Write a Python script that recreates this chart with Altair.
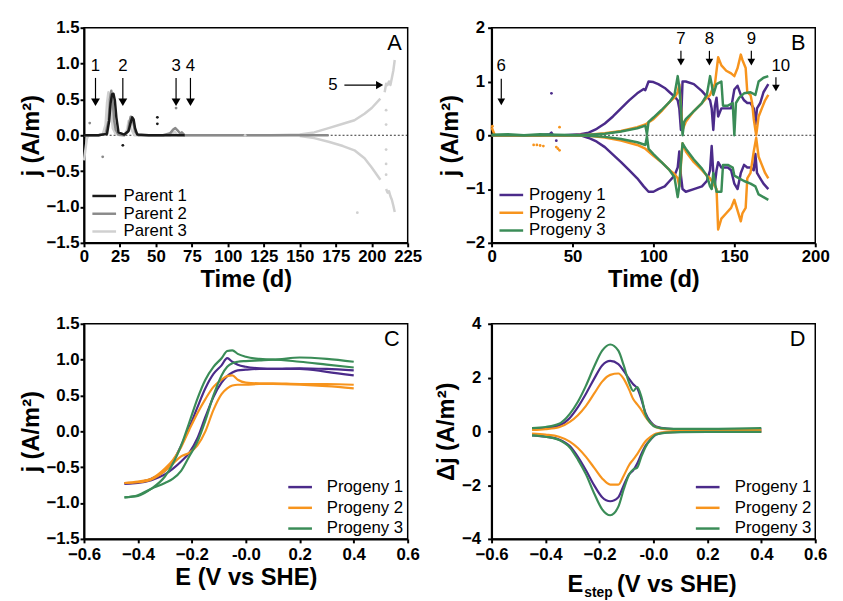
import altair as alt
import pandas as pd

FONT = "Liberation Sans"

# ---------------- Panel A: parents ----------------
parent_names = ["Parent 1", "Parent 2", "Parent 3"]
parent_colors = ["#1a1a1a", "#8a8a8a", "#d0d0d0"]

p1_t = [0, 10, 16, 17.5, 18.5, 19.5, 20.5, 21.5, 22.5, 24, 28, 31, 32.5, 33.5, 34.5, 35.5, 37, 45, 60, 70]
p1_j = [0, 0, 0.02, 0.2, 0.45, 0.57, 0.58, 0.48, 0.25, 0.04, 0.01, 0.06, 0.18, 0.25, 0.22, 0.1, 0.01, 0, 0, 0]
p2_t = [0, 10, 15, 17, 18, 19, 20, 21, 22, 24, 28, 30.5, 31.5, 32.5, 33.5, 34.5, 35.5, 38, 55, 60, 62, 63.5, 65, 67, 68, 70, 100, 150, 170]
p2_j = [0, 0, 0.02, 0.2, 0.5, 0.62, 0.45, 0.2, 0.08, 0.01, 0, 0.05, 0.17, 0.26, 0.25, 0.15, 0.05, 0, 0, 0.03, 0.08, 0.1, 0.07, 0.02, 0.04, 0, 0, 0, 0]
p3_t = [0, 1, 2, 3, 5, 10, 13, 15, 16, 17, 18, 19, 20, 22, 25, 28, 30, 31, 32, 33, 35, 40, 60, 63, 65, 70, 100, 130, 150, 160, 170, 180, 188, 195, 200, 206]
p3_j = [-0.35, -0.2, -0.05, 0, 0, 0, 0.01, 0.15, 0.45, 0.6, 0.5, 0.3, 0.1, 0.02, 0, 0, 0.08, 0.2, 0.18, 0.08, 0, 0, 0, 0.05, 0, 0, 0, 0, 0.01, 0.04, 0.1, 0.16, 0.21, 0.3, 0.38, 0.51]
p3_tail_t = [209, 210, 211, 212, 213, 214, 215, 216]
p3_tail_j = [0.6, 0.72, 0.7, 0.75, 0.7, 0.8, 0.9, 1.05]
p3_neg_t = [150, 160, 170, 180, 188, 195, 200, 206]
p3_neg_j = [-0.01, -0.04, -0.09, -0.15, -0.21, -0.32, -0.45, -0.62]
p3_negtail_t = [210, 211, 212, 213, 214, 215, 216]
p3_negtail_j = [-0.75, -0.8, -0.78, -0.85, -0.9, -0.98, -1.07]

a_dot_t = [51, 51, 27, 13, 64, 4, 190, 210, 210, 210, 210, 210, 112]
a_dot_j = [0.25, 0.16, -0.14, -0.3, 0.38, 0.17, -1.08, 0.35, 0.15, -0.2, -0.4, -0.55, 0.0]
a_dot_c = ["#1a1a1a", "#1a1a1a", "#1a1a1a", "#8a8a8a", "#8a8a8a", "#8a8a8a",
           "#d0d0d0", "#d0d0d0", "#d0d0d0", "#d0d0d0", "#d0d0d0", "#d0d0d0", "#d0d0d0"]

a_arrow_lab = ["1", "2", "3", "4"]
a_arrow_x = [8, 27, 64, 74]
a_arrow_text_y = [0.97, 0.97, 0.97, 0.97]
a_arrow_top = [0.8, 0.8, 0.8, 0.8]
a_arrow_bot = [0.5, 0.5, 0.5, 0.5]
a_arrow_head = [0.46, 0.46, 0.46, 0.46]
a5_text = ["5"]
a5_text_x = [173]
a5_x1 = [181]
a5_x2 = [203]
a5_head_x = [205.5]
a5_y = [0.7]

# ---------------- Panel B: progeny ----------------
prog_names = ["Progeny 1", "Progeny 2", "Progeny 3"]
prog_colors = ["#4b2b8a", "#f7941d", "#3a8c57"]

g1p_t = [0, 30, 36, 37, 38, 45, 55, 60, 65, 70, 75, 80, 85, 90, 94, 95, 97, 100, 103, 107, 110, 113, 115, 116, 117, 117.5, 118, 120, 125, 130, 133, 135, 136, 137, 138, 139, 140, 142, 146, 148, 150, 152, 154, 156, 158, 160, 162, 163, 164, 166, 168, 171]
g1p_j = [0, 0, 0.02, 0.05, 0, 0, 0.02, 0.05, 0.12, 0.22, 0.35, 0.5, 0.65, 0.78, 0.86, 0.84, 1.0, 0.99, 0.95, 0.88, 0.8, 0.72, 0.65, 0.5, 0.1, 0.6, 1.0, 1.0, 0.95, 0.82, 0.72, 0.65, 0.5, 0.1, 0.55, 0.7, 0.35, 0.5, 0.5, 0.5, 0.85, 0.92, 0.75, 0.65, 0.6, 0.6, 0.5, 0.2, 0.5, 0.6, 0.8, 0.95]
g1n_t = [0, 55, 60, 65, 70, 75, 80, 85, 90, 94, 97, 100, 103, 107, 110, 113, 115, 116, 117, 118, 120, 125, 130, 133, 135, 136, 137, 138, 139, 140, 142, 146, 148, 150, 152, 154, 156, 158, 160, 162, 163, 164, 166, 168, 171]
g1n_j = [0, 0, -0.05, -0.12, -0.22, -0.36, -0.5, -0.65, -0.8, -0.95, -1.05, -1.05, -1.0, -0.95, -0.85, -0.75, -0.6, -0.3, -0.75, -1.0, -1.05, -1.0, -0.95, -0.85, -0.65, -0.2, -0.7, -0.9, -0.65, -0.5, -0.6, -0.6, -0.65, -0.9, -1.0, -0.7, -0.55, -0.6, -0.6, -0.65, -0.35, -0.7, -0.8, -0.9, -1.0]
g2p_t = [0, 2, 50, 60, 70, 80, 90, 95, 100, 105, 110, 113, 115, 116, 118, 120, 125, 130, 133, 135, 137, 138, 140, 142, 145, 148, 150, 152, 154, 155, 157, 158, 160, 161, 162, 163.5, 165, 167, 169, 171]
g2p_j = [0.15, 0, 0, 0.01, 0.04, 0.08, 0.15, 0.2, 0.3, 0.45, 0.62, 0.7, 0.8, 0.95, 0.1, 0.25, 0.45, 0.6, 0.7, 0.75, 0.9, 0.95, 1.45, 1.3, 1.2, 1.15, 1.1, 1.25, 1.5, 1.4, 1.25, 0.8, 0.75, 0.6, 0.3, 0.0, 0.35, 0.5, 0.65, 0.75]
g2n_t = [0, 50, 60, 70, 80, 90, 95, 100, 105, 110, 113, 115, 116, 118, 120, 125, 130, 133, 135, 137, 139, 140, 142, 145, 148, 150, 152, 154, 155, 157, 158, 160, 162, 163.5, 165, 167, 169, 171]
g2n_j = [0, 0, -0.01, -0.04, -0.1, -0.18, -0.25, -0.38, -0.5, -0.65, -0.72, -0.8, -0.95, -0.15, -0.3, -0.5, -0.65, -0.75, -0.8, -0.9, -1.0, -1.75, -1.55, -1.45, -1.35, -1.2, -1.4, -1.6, -1.45, -1.35, -0.8, -0.7, -0.3, -0.05, -0.4, -0.55, -0.7, -0.8]
g3p_t = [0, 10, 20, 30, 40, 55, 60, 70, 80, 90, 95, 96, 97, 100, 105, 110, 113, 115, 116, 117, 118, 119, 120, 125, 130, 133, 135, 136, 137, 139, 142, 143, 146, 149, 150, 151, 153, 156, 160, 163, 165, 168, 171]
g3p_j = [0.01, 0.02, 0.0, 0.02, 0.01, 0, 0.01, 0.03, 0.07, 0.13, 0.18, 0.02, 0.25, 0.33, 0.47, 0.62, 0.75, 1.1, 0.9, 0.5, 0.0, 0.25, 0.3, 0.45, 0.6, 0.75, 1.1, 0.95, 0.75, 0.95, 1.0, 0.55, 0.55, 0.6, 0.0, 0.6, 0.7, 0.78, 0.8, 0.75, 1.0, 1.07, 1.1]
g3n_t = [0, 55, 60, 70, 80, 90, 95, 96, 97, 100, 105, 110, 113, 115, 116, 117, 118, 119, 120, 125, 130, 133, 135, 136, 137, 139, 142, 143, 146, 149, 150, 153, 156, 160, 163, 165, 168, 171]
g3n_j = [0, 0, -0.01, -0.03, -0.07, -0.13, -0.18, -0.02, -0.25, -0.35, -0.5, -0.65, -0.78, -1.15, -0.95, -0.5, -0.15, -0.2, -0.25, -0.45, -0.62, -0.75, -0.95, -1.0, -0.7, -1.05, -1.05, -0.55, -0.55, -0.6, -0.75, -0.8, -0.85, -0.9, -0.95, -1.1, -1.15, -1.2]

b_dot_t = [37, 0.5, 26, 28, 30, 32, 40, 41, 42, 42, 40]
b_dot_j = [0.78, 0.17, -0.18, -0.18, -0.19, -0.2, -0.22, -0.25, -0.28, 0.15, -0.1]
b_dot_c = ["#4b2b8a", "#f7941d", "#f7941d", "#f7941d", "#f7941d", "#f7941d",
           "#f7941d", "#f7941d", "#f7941d", "#f7941d", "#4b2b8a"]

b_arrow_lab = ["6", "7", "8", "9", "10"]
b_arrow_x = [6, 117, 134.6, 160.5, 175.7]
b_text_x = [6, 117, 134.6, 160.5, 178.7]
b_text_y = [1.29, 1.78, 1.78, 1.78, 1.29]
b_arrow_top = [1.05, 1.57, 1.57, 1.57, 1.08]
b_arrow_bot = [0.68, 1.4, 1.4, 1.4, 0.92]
b_arrow_head = [0.62, 1.36, 1.36, 1.36, 0.88]

# ---------------- Panel C: CV ----------------
c_E = [-0.45, -0.4, -0.35, -0.3, -0.27, -0.24, -0.21, -0.18, -0.15, -0.12, -0.09, -0.069, -0.05, -0.03, 0.0, 0.05, 0.1, 0.2, 0.3, 0.4]
c1_up = [-0.73, -0.71, -0.66, -0.55, -0.42, -0.2, 0.05, 0.33, 0.6, 0.8, 0.92, 1.02, 0.97, 0.93, 0.9, 0.88, 0.87, 0.88, 0.87, 0.85]
c1_lo = [-0.73, -0.72, -0.68, -0.6, -0.52, -0.42, -0.3, -0.1, 0.2, 0.48, 0.68, 0.77, 0.82, 0.85, 0.86, 0.87, 0.87, 0.87, 0.83, 0.78]
c2_up = [-0.72, -0.7, -0.66, -0.52, -0.4, -0.22, 0.02, 0.25, 0.45, 0.62, 0.72, 0.77, 0.78, 0.72, 0.68, 0.67, 0.67, 0.66, 0.66, 0.65]
c2_lo = [-0.72, -0.71, -0.67, -0.55, -0.45, -0.35, -0.3, -0.2, 0.0, 0.3, 0.52, 0.6, 0.64, 0.65, 0.65, 0.66, 0.66, 0.65, 0.63, 0.6]
c3_up = [-0.92, -0.9, -0.8, -0.63, -0.45, -0.2, 0.12, 0.45, 0.72, 0.9, 1.02, 1.12, 1.13, 1.08, 1.04, 1.01, 1.0, 1.03, 1.01, 0.97]
c3_lo = [-0.92, -0.89, -0.8, -0.72, -0.66, -0.55, -0.35, -0.15, 0.15, 0.5, 0.78, 0.9, 0.95, 0.97, 0.98, 0.99, 1.0, 0.97, 0.93, 0.89]

# ---------------- Panel D: differential current ----------------
d_E = [-0.45, -0.4, -0.35, -0.31, -0.28, -0.25, -0.22, -0.19, -0.16, -0.13, -0.11, -0.09, -0.075, -0.06, -0.045, -0.03, -0.01, 0.01, 0.05, 0.1, 0.2, 0.3, 0.4]
d1_pos = [0.1, 0.13, 0.22, 0.5, 0.9, 1.4, 1.95, 2.45, 2.62, 2.5, 2.25, 1.95, 1.75, 1.6, 1.2, 0.7, 0.35, 0.18, 0.1, 0.08, 0.08, 0.08, 0.08]
d1_neg = [-0.15, -0.2, -0.3, -0.55, -0.95, -1.45, -2.0, -2.45, -2.6, -2.45, -2.0, -1.6, -1.45, -1.2, -0.85, -0.55, -0.3, -0.12, -0.04, -0.02, -0.01, 0.0, 0.0]
d2_pos = [0.05, 0.08, 0.15, 0.35, 0.6, 0.95, 1.4, 1.85, 2.1, 2.15, 1.95, 1.55, 1.2, 1.0, 0.8, 0.55, 0.3, 0.15, 0.07, 0.05, 0.05, 0.05, 0.05]
d2_neg = [-0.08, -0.12, -0.2, -0.38, -0.62, -0.95, -1.35, -1.75, -1.98, -1.98, -1.65, -1.25, -1.05, -0.85, -0.6, -0.38, -0.2, -0.08, -0.03, -0.02, -0.01, -0.01, -0.01]
d3_pos = [0.12, 0.16, 0.28, 0.65, 1.1, 1.7, 2.4, 3.0, 3.23, 3.0, 2.45, 1.8, 1.5, 1.65, 1.3, 0.65, 0.3, 0.15, 0.1, 0.09, 0.09, 0.1, 0.12]
d3_neg = [-0.15, -0.2, -0.32, -0.6, -1.05, -1.6, -2.3, -2.9, -3.12, -2.8, -2.15, -1.6, -1.42, -1.35, -0.95, -0.6, -0.3, -0.12, -0.05, -0.03, -0.02, -0.02, -0.02]


def frame(pairs, xname, yname):
    rows = []
    for name, branch, xs, ys in pairs:
        for x, y in zip(xs, ys):
            rows.append({xname: x, yname: y, "series": name, "branch": branch})
    return pd.DataFrame(rows)


dfA = frame([
    ("Parent 1", "a", p1_t, p1_j),
    ("Parent 2", "a", p2_t, p2_j),
    ("Parent 3", "a", p3_t, p3_j),
    ("Parent 3", "b", p3_tail_t, p3_tail_j),
    ("Parent 3", "c", p3_neg_t, p3_neg_j),
    ("Parent 3", "d", p3_negtail_t, p3_negtail_j),
], "t", "j")
dfB = frame([
    ("Progeny 1", "p", g1p_t, g1p_j), ("Progeny 1", "n", g1n_t, g1n_j),
    ("Progeny 2", "p", g2p_t, g2p_j), ("Progeny 2", "n", g2n_t, g2n_j),
    ("Progeny 3", "p", g3p_t, g3p_j), ("Progeny 3", "n", g3n_t, g3n_j),
], "t", "j")
dfC = frame([
    ("Progeny 1", "u", c_E, c1_up), ("Progeny 1", "l", c_E, c1_lo),
    ("Progeny 2", "u", c_E, c2_up), ("Progeny 2", "l", c_E, c2_lo),
    ("Progeny 3", "u", c_E, c3_up), ("Progeny 3", "l", c_E, c3_lo),
], "E", "j")
dfD = frame([
    ("Progeny 1", "p", d_E, d1_pos), ("Progeny 1", "n", d_E, d1_neg),
    ("Progeny 2", "p", d_E, d2_pos), ("Progeny 2", "n", d_E, d2_neg),
    ("Progeny 3", "p", d_E, d3_pos), ("Progeny 3", "n", d_E, d3_neg),
], "E", "j")

W, H = 328, 218
e_label = "datum.value == 0 ? '-0.0' : format(datum.value, '.1f')"


class Panel:
    def __init__(self, xdom, ydom, xvals, yvals, xtitle, ytitle, xfmt=None, yfmt=None,
                 xexpr=None, xpad=1, ypad=1):
        self.xs = alt.Scale(domain=xdom, nice=False, zero=False)
        self.ys = alt.Scale(domain=ydom, nice=False, zero=False)
        xa = dict(values=xvals, title=xtitle, labelOverlap=False, labelFlush=False,
                  labelPadding=xpad)
        if xfmt:
            xa["format"] = xfmt
        if xexpr:
            xa["labelExpr"] = xexpr
        ya = dict(values=yvals, title=ytitle, labelOverlap=False, labelFlush=False,
                  labelPadding=ypad)
        if yfmt:
            ya["format"] = yfmt
        self.xa = alt.Axis(**xa)
        self.ya = alt.Axis(**ya)

    def x(self, f):
        return alt.X(f + ":Q", scale=self.xs, axis=self.xa)

    def y(self, f):
        return alt.Y(f + ":Q", scale=self.ys, axis=self.ya)


def legend(x, y, label_offset, row_pad):
    return alt.Legend(orient="none", legendX=x, legendY=y, title=None,
                      labelFont=FONT, labelFontSize=17, labelColor="black",
                      symbolType="M-1.5,0H1.5", symbolSize=256, symbolStrokeWidth=2.5,
                      labelOffset=label_offset, rowPadding=row_pad, padding=0)


def zero_rule(p):
    return alt.Chart(pd.DataFrame({"z": [0]})).mark_rule(
        color="black", strokeWidth=0.8, strokeDash=[2, 2]).encode(y=p.y("z"))


def panel_letter(letter, dx):
    return alt.Chart(pd.DataFrame({"l": [letter]})).mark_text(
        font=FONT, fontSize=22, align="right", baseline="alphabetic", color="black"
    ).encode(text="l:N", x=alt.value(W - dx), y=alt.value(23))


def arrows(p, lab, ax, tx, ty, top, bot, head, size):
    d = pd.DataFrame({"lab": lab, "ax": ax, "tx": tx, "ty": ty, "top": top, "bot": bot, "head": head})
    shaft = alt.Chart(d).mark_rule(color="black", strokeWidth=1.2).encode(
        x=p.x("ax"), y=p.y("top"), y2="bot:Q")
    tip = alt.Chart(d).mark_point(shape="triangle-down", filled=True, color="black",
                                  opacity=1, size=size).encode(x=p.x("ax"), y=p.y("head"))
    txt = alt.Chart(d).mark_text(font=FONT, fontSize=17, color="black", baseline="middle").encode(
        x=p.x("tx"), y=p.y("ty"), text="lab:N")
    return [shaft, tip, txt]


def dots(p, ts, js, cs):
    return alt.Chart(pd.DataFrame({"t": ts, "j": js, "c": cs})).mark_circle(
        size=8, opacity=1).encode(x=p.x("t"), y=p.y("j"), color=alt.Color("c:N", scale=None))


# ---------- Panel A ----------
pA = Panel([0, 225], [-1.5, 1.5], list(range(0, 226, 25)), [-1.5, -1.0, -0.5, 0.0, 0.5, 1.0, 1.5],
           "Time (d)", "j (A/m²)", xfmt="d", yfmt=".1f", xpad=2)
colA = alt.Scale(domain=parent_names, range=parent_colors)
layersA = [zero_rule(pA)]
for name in ["Parent 3", "Parent 2", "Parent 1"]:
    layersA.append(alt.Chart(dfA).transform_filter(alt.datum.series == name).mark_line(
        strokeWidth=2.5, strokeJoin="round").encode(
        x=pA.x("t"), y=pA.y("j"), detail="branch:N",
        color=alt.Color("series:N", scale=colA, legend=legend(11, 161, 10, 0))))
arrow5 = pd.DataFrame({"lab": a5_text, "tx": a5_text_x, "x1": a5_x1, "x2": a5_x2, "hx": a5_head_x, "y": a5_y})
a5_shaft = alt.Chart(arrow5).mark_rule(color="black", strokeWidth=1.2).encode(
    x=pA.x("x1"), x2="x2:Q", y=pA.y("y"))
a5_tip = alt.Chart(arrow5).mark_point(shape="triangle-right", filled=True, color="black",
                                      opacity=1, size=70).encode(x=pA.x("hx"), y=pA.y("y"))
a5_txt = alt.Chart(arrow5).mark_text(font=FONT, fontSize=17, color="black", baseline="middle").encode(
    x=pA.x("tx"), y=pA.y("y"), text="lab:N")
chartA = alt.layer(*layersA, dots(pA, a_dot_t, a_dot_j, a_dot_c),
                   *arrows(pA, a_arrow_lab, a_arrow_x, a_arrow_x, a_arrow_text_y, a_arrow_top,
                           a_arrow_bot, a_arrow_head, 80),
                   a5_shaft, a5_tip, a5_txt, panel_letter("A", 6)).properties(width=W, height=H)

# ---------- Panel B ----------
pB = Panel([0, 200], [-2, 2], [0, 50, 100, 150, 200], [-2, -1, 0, 1, 2],
           "Time (d)", "j (A/m²)", xfmt="d", yfmt="d", xpad=2, ypad=3)
colP = alt.Scale(domain=prog_names, range=prog_colors)
linesB = alt.Chart(dfB).mark_line(strokeWidth=2.5, strokeJoin="round").encode(
    x=pB.x("t"), y=pB.y("j"), detail="branch:N",
    color=alt.Color("series:N", scale=colP, legend=legend(10.5, 160, 8.5, 0)))
chartB = alt.layer(zero_rule(pB), linesB, dots(pB, b_dot_t, b_dot_j, b_dot_c),
                   *arrows(pB, b_arrow_lab, b_arrow_x, b_text_x, b_text_y, b_arrow_top, b_arrow_bot,
                           b_arrow_head, 60),
                   panel_letter("B", 10)).properties(width=W, height=H)

# ---------- Panel C ----------
evals = [-0.6, -0.4, -0.2, 0, 0.2, 0.4, 0.6]
pC = Panel([-0.6, 0.6], [-1.5, 1.5], evals, [-1.5, -1.0, -0.5, 0.0, 0.5, 1.0, 1.5],
           "E (V vs SHE)", "j (A/m²)", yfmt=".1f", xexpr=e_label, xpad=4)
linesC = alt.Chart(dfC).mark_line(strokeWidth=2.2, strokeJoin="round", interpolate="monotone").encode(
    x=pC.x("E"), y=pC.y("j"), detail="branch:N",
    color=alt.Color("series:N", scale=colP, legend=legend(209.5, 156, 17.5, 3)))
chartC = alt.layer(linesC, panel_letter("C", 8)).properties(width=W, height=H)

# ---------- Panel D ----------
pD = Panel([-0.6, 0.6], [-4, 4], evals, [-4, -2, 0, 2, 4],
           None, "Δj (A/m²)", yfmt="d", xexpr=e_label, xpad=4, ypad=7)
linesD = alt.Chart(dfD).mark_line(strokeWidth=2.2, strokeJoin="round", interpolate="monotone").encode(
    x=pD.x("E"), y=pD.y("j"), detail="branch:N",
    color=alt.Color("series:N", scale=colP, legend=legend(209.5, 156, 18, 3)))
tparts = pd.DataFrame({"s": ["E"], "s2": ["step"], "s3": ["(V vs SHE)"]})
tE = alt.Chart(tparts).mark_text(font=FONT, fontWeight="bold", fontSize=24, align="left",
                                 baseline="alphabetic", color="black").encode(
    text="s:N", x=alt.value(77), y=alt.value(H + 54))
tStep = alt.Chart(tparts).mark_text(font=FONT, fontWeight="bold", fontSize=14, align="left",
                                    baseline="alphabetic", color="black").encode(
    text="s2:N", x=alt.value(94), y=alt.value(H + 59))
tRest = alt.Chart(tparts).mark_text(font=FONT, fontWeight="bold", fontSize=24, align="left",
                                    baseline="alphabetic", color="black").encode(
    text="s3:N", x=alt.value(127), y=alt.value(H + 54))
chartD = alt.layer(linesD, tE, tStep, tRest, panel_letter("D", 10)).properties(width=W, height=H)

chart = alt.concat(chartA, chartB, chartC, chartD, columns=2,
                   spacing={"row": 82, "column": 85}, bounds="flush").resolve_scale(
    color="independent"
).properties(
    padding={"left": 10, "top": 6, "right": 5, "bottom": 0}
).configure_axis(
    labelFont=FONT, labelFontWeight="bold", labelFontSize=17, labelColor="black",
    titleFont=FONT, titleFontWeight="bold", titleFontSize=24, titleColor="black",
    domainColor="black", domainWidth=2, tickColor="black", tickWidth=2, tickSize=4,
    labelPadding=1, titlePadding=3, grid=False
).configure_view(stroke="black", strokeWidth=1.5)

chart.save("out.html", embed_options={"renderer": "svg", "actions": False})
